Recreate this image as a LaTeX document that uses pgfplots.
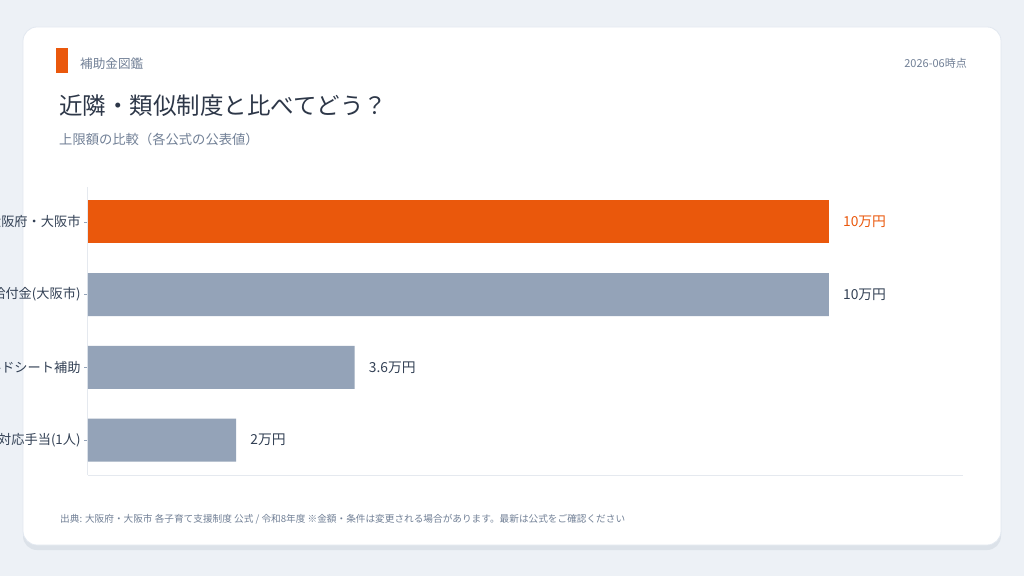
\documentclass[border=0pt]{standalone}
\usepackage{pgfplots}
\pgfplotsset{compat=1.18}
\usepackage{fontspec}
\setmainfont{Noto Sans CJK JP}
\definecolor{bg}{HTML}{EDF1F6}
\definecolor{shadow}{HTML}{DCE2E9}
\definecolor{cardline}{HTML}{E2E8F0}
\definecolor{accent}{HTML}{EA580C}
\definecolor{barg}{HTML}{94A3B8}
\definecolor{titlec}{HTML}{2D3748}
\definecolor{textc}{HTML}{334155}
\definecolor{mutedc}{HTML}{718096}
\definecolor{axisc}{HTML}{E5E9EF}
\definecolor{tickc}{HTML}{94A3B8}
\begin{document}
\begin{tikzpicture}[x=1pt,y=1pt]
\path[use as bounding box] (0,0) rectangle (1024,576);
\clip (0,0) rectangle (1024,576);
\fill[bg] (0,0) rectangle (1024,576);
\fill[shadow, rounded corners=14pt] (23,576-550) rectangle (1001,576-30);
\filldraw[fill=white, draw=cardline, line width=0.8pt, rounded corners=14pt] (23,576-545) rectangle (1001,576-27);
\fill[accent] (56,576-73) rectangle (68,576-48);
\node[anchor=base west, inner sep=0, text=mutedc, font=\fontsize{12.6}{14}\selectfont] at (80,576-68.8) {補助金図鑑};
\node[anchor=base east, inner sep=0, text=mutedc, font=\fontsize{11}{12}\selectfont] at (967,576-68) {2026-06時点};
\node[anchor=base west, inner sep=0, text=titlec, font=\fontsize{23.5}{26}\selectfont] at (59,576-114.7) {近隣・類似制度と比べてどう？};
\node[anchor=base west, inner sep=0, text=mutedc, font=\fontsize{13.3}{15}\selectfont] at (59,576-145) {上限額の比較（各公式の公表値）};
\node[anchor=base west, inner sep=0, text=mutedc, font=\fontsize{9.65}{11}\selectfont] at (60,576-522.6) {出典: 大阪府・大阪市 各子育て支援制度 公式 / 令和8年度 ※金額・条件は変更される場合があります。最新は公式をご確認ください};
\begin{axis}[
  at={(88pt,101pt)}, anchor=south west,
  scale only axis, width=875pt, height=288pt,
  xmin=0, xmax=11.81, ymin=-0.48, ymax=3.48, y dir=reverse,
  xbar, bar width=43pt,
  xtick=\empty,
  ytick={0,1,2,3},
  yticklabels={大阪府・大阪市, 出産応援給付金(大阪市), チャイルドシート補助, 多胎児対応手当(1人)},
  axis x line*=bottom, axis y line*=left,
  axis line style={draw=axisc, line width=1pt, -},
  y tick label style={font=\fontsize{13.2}{15}\selectfont, text=textc},
  ytick style={draw=tickc, line width=0.6pt},
  major tick length=4pt, tick align=outside,
  point meta=explicit symbolic,
  nodes near coords,
  every node near coord/.append style={anchor=west, inner sep=0pt, xshift=14pt, font=\fontsize{13.8}{15}\selectfont},
  clip=false,
]
\addplot[fill=accent, draw=none, bar shift=0pt, every node near coord/.append style={text=accent}] coordinates {(10,0) [10万円]};
\addplot[fill=barg, draw=none, bar shift=0pt, every node near coord/.append style={text=textc}] coordinates {(10,1) [10万円] (3.6,2) [3.6万円] (2,3) [2万円]};
\end{axis}
\end{tikzpicture}
\end{document}
